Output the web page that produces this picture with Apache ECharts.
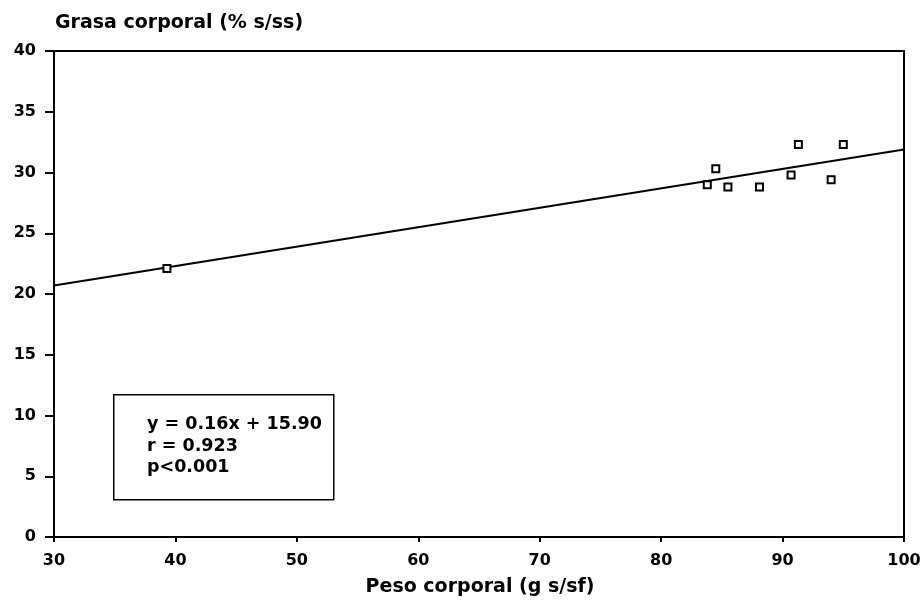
<!DOCTYPE html>
<html>
<head>
<meta charset="utf-8">
<script src="https://cdn.jsdelivr.net/npm/echarts@6/dist/echarts.min.js"></script>
<style>
    html, body { margin: 0; padding: 0; background: #fff; }
    #main { width: 924px; height: 600px; }
</style>
</head>
<body>
<div id="main"></div>
<script>
    // datos
    const pesoCorporal = [39.3, 83.8, 84.5, 85.5, 88.1, 90.7, 91.3, 94.0, 95.0];
    const grasaCorporal = [22.1, 29.0, 30.3, 28.8, 28.8, 29.8, 32.3, 29.4, 32.3];
    const xTicks = [30, 40, 50, 60, 70, 80, 90, 100];
    const yTicks = [0, 5, 10, 15, 20, 25, 30, 35, 40];
    const pendiente = 0.16;
    const intercepto = 15.90;
    const textoRecuadro = ['y = 0.16x + 15.90', 'r = 0.923', 'p<0.001'];

    const fuente = 'DejaVu Sans, Arial, sans-serif';
    const puntos = pesoCorporal.map((x, i) => [x, grasaCorporal[i]]);
    const xMin = xTicks[0], xMax = xTicks[xTicks.length - 1];
    const recta = [[xMin, pendiente * xMin + intercepto], [xMax, pendiente * xMax + intercepto]];

    const chart = echarts.init(document.getElementById('main'));
    chart.setOption({
        animation: false,
        grid: { left: 54, right: 20, top: 51, bottom: 63 },
        xAxis: [{
            type: 'value',
            min: xMin, max: xMax, interval: 10,
            splitLine: { show: false },
            axisLine: { onZero: false, lineStyle: { color: '#000', width: 2 } },
            axisTick: { show: true, length: 5, lineStyle: { color: '#000', width: 2 } },
            axisLabel: { color: '#000', fontSize: 16, fontWeight: 'bold', fontFamily: fuente, margin: 16 }
        }, {
            type: 'value', position: 'top',
            min: xMin, max: xMax,
            splitLine: { show: false },
            axisLine: { show: true, onZero: false, lineStyle: { color: '#000', width: 2 } },
            axisTick: { show: false },
            axisLabel: { show: false }
        }],
        yAxis: [{
            type: 'value',
            min: yTicks[0], max: yTicks[yTicks.length - 1], interval: 5,
            splitLine: { show: false },
            axisLine: { show: true, onZero: false, lineStyle: { color: '#000', width: 2 } },
            axisTick: { show: true, length: 9, lineStyle: { color: '#000', width: 2 } },
            axisLabel: { color: '#000', fontSize: 16, fontWeight: 'bold', fontFamily: fuente, margin: 18 }
        }, {
            type: 'value', position: 'right',
            min: yTicks[0], max: yTicks[yTicks.length - 1],
            splitLine: { show: false },
            axisLine: { show: true, onZero: false, lineStyle: { color: '#000', width: 2 } },
            axisTick: { show: false },
            axisLabel: { show: false }
        }],
        series: [{
            type: 'line',
            data: recta,
            symbol: 'none',
            lineStyle: { color: '#000', width: 2 },
            z: 2
        }, {
            type: 'scatter',
            data: puntos,
            symbol: 'rect',
            symbolSize: 7,
            itemStyle: { color: '#fff', borderColor: '#000', borderWidth: 2, opacity: 1 },
            z: 3
        }],
        graphic: [{
            type: 'text',
            left: 55, top: 14,
            style: { text: 'Grasa corporal (% s/ss)', fill: '#000', font: 'bold 19px ' + fuente }
        }, {
            type: 'text',
            x: 480, y: 587,
            style: { text: 'Peso corporal (g s/sf)', fill: '#000', font: 'bold 19px ' + fuente, align: 'center', verticalAlign: 'middle' }
        }, {
            type: 'rect',
            left: 113, top: 394,
            shape: { width: 220, height: 105 },
            style: { fill: '#fff', stroke: '#000', lineWidth: 1.5 },
            z: 10
        }, {
            type: 'text',
            left: 147, top: 414,
            style: { text: textoRecuadro.join('\n'), fill: '#000', font: 'bold 17.5px ' + fuente, lineHeight: 21.5 },
            z: 11
        }]
    });
</script>
</body>
</html>
